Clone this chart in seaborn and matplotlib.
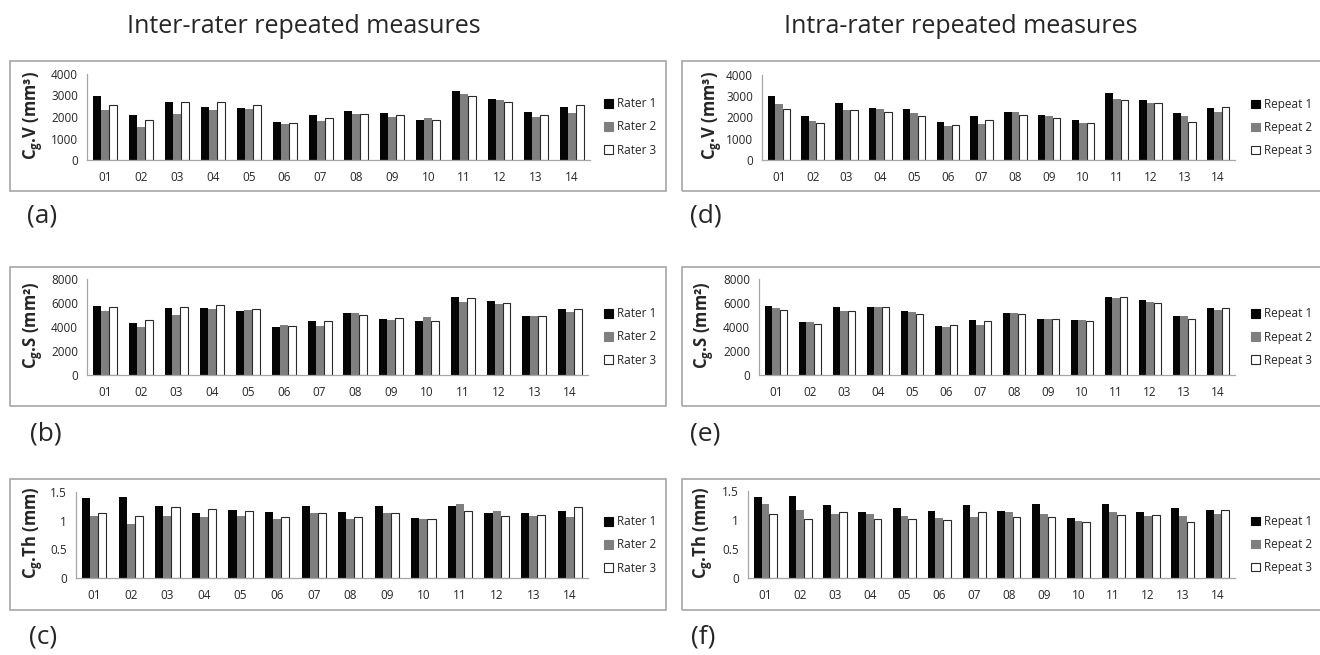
import matplotlib
matplotlib.use("Agg")
import matplotlib.pyplot as plt
import matplotlib.patches as mpatches
import seaborn as sns
import pandas as pd

cases = ["01", "02", "03", "04", "05", "06", "07", "08", "09", "10", "11", "12", "13", "14"]

# volume (mm3)
vol_rater1 = [3000, 2080, 2700, 2480, 2420, 1780, 2110, 2270, 2170, 1880, 3200, 2860, 2220, 2450]
vol_rater2 = [2330, 1520, 2140, 2310, 2380, 1660, 1810, 2120, 2020, 1950, 3090, 2810, 2020, 2200]
vol_rater3 = [2580, 1860, 2720, 2720, 2580, 1700, 1970, 2160, 2110, 1860, 3000, 2720, 2080, 2550]
vol_repeat1 = [3020, 2080, 2670, 2470, 2390, 1770, 2090, 2250, 2140, 1860, 3170, 2840, 2190, 2450]
vol_repeat2 = [2620, 1840, 2360, 2410, 2220, 1620, 1690, 2250, 2060, 1750, 2870, 2690, 2050, 2280]
vol_repeat3 = [2390, 1720, 2360, 2270, 2060, 1660, 1890, 2140, 2000, 1750, 2840, 2660, 1810, 2500]

# surface area (mm2)
area_rater1 = [5780, 4370, 5580, 5610, 5300, 4030, 4540, 5180, 4680, 4540, 6480, 6200, 4900, 5520]
area_rater2 = [5300, 4030, 4990, 5470, 5410, 4170, 4090, 5130, 4590, 4850, 6110, 5940, 4900, 5270]
area_rater3 = [5690, 4590, 5690, 5800, 5520, 4110, 4480, 5010, 4730, 4540, 6420, 6030, 4900, 5490]
area_repeat1 = [5780, 4390, 5630, 5660, 5350, 4060, 4560, 5180, 4680, 4560, 6510, 6250, 4930, 5580]
area_repeat2 = [5550, 4390, 5300, 5660, 5240, 4030, 4170, 5130, 4680, 4560, 6450, 6110, 4900, 5440]
area_repeat3 = [5440, 4280, 5300, 5660, 5070, 4170, 4480, 5070, 4650, 4510, 6510, 6000, 4700, 5610]

# thickness (mm)
thick_rater1 = [1.40, 1.42, 1.26, 1.14, 1.19, 1.15, 1.25, 1.15, 1.26, 1.05, 1.26, 1.14, 1.13, 1.17]
thick_rater2 = [1.09, 0.95, 1.09, 1.07, 1.09, 1.03, 1.14, 1.03, 1.14, 1.03, 1.29, 1.17, 1.08, 1.06]
thick_rater3 = [1.13, 1.08, 1.23, 1.21, 1.17, 1.06, 1.13, 1.07, 1.13, 1.03, 1.16, 1.08, 1.10, 1.23]
thick_repeat1 = [1.40, 1.42, 1.26, 1.14, 1.20, 1.15, 1.26, 1.15, 1.27, 1.03, 1.27, 1.14, 1.20, 1.17]
thick_repeat2 = [1.28, 1.17, 1.10, 1.10, 1.07, 1.03, 1.06, 1.14, 1.10, 0.99, 1.14, 1.07, 1.07, 1.10]
thick_repeat3 = [1.10, 1.01, 1.13, 1.01, 1.02, 1.00, 1.13, 1.05, 1.05, 0.97, 1.08, 1.08, 0.97, 1.18]

rater_names = ["Rater 1", "Rater 2", "Rater 3"]
repeat_names = ["Repeat 1", "Repeat 2", "Repeat 3"]

sns.set_style("white")
plt.rcParams["font.family"] = ["Open Sans", "DejaVu Sans"]
plt.rcParams["mathtext.fontset"] = "custom"
plt.rcParams["mathtext.rm"] = "Open Sans"
plt.rcParams["mathtext.bf"] = "Open Sans:bold"

W, H = 1320, 655
fig = plt.figure(figsize=(W / 100, H / 100), dpi=100)
GRID = "#a6a6a6"
colors = ["#050505", "#7f7f7f", "#ffffff"]


def fx(px):
    return px / W


def fy(py):
    return 1 - py / H


def box(x0, y0, x1, y1):
    r = mpatches.Rectangle((fx(x0), fy(y1)), (x1 - x0) / W, (y1 - y0) / H,
                           transform=fig.transFigure, fill=False, ec=GRID, lw=1.2)
    fig.add_artist(r)


def panel(rect, series, names, ymax, ystep, ylabel, ylab_x, legend_x):
    x0, y0, x1, y1 = rect
    ax = fig.add_axes([fx(x0), fy(y1), (x1 - x0) / W, (y1 - y0) / H])
    df = pd.DataFrame({
        "case": cases * 3,
        "value": series[0] + series[1] + series[2],
        "who": [n for n in names for _ in cases],
    })
    sns.barplot(data=df, x="case", y="value", hue="who", palette=colors,
                width=0.667, errorbar=None, linewidth=0, legend=False, ax=ax)
    for bar in ax.containers[2]:
        bar.set_edgecolor("#2a2a2a")
        bar.set_linewidth(0.8)
    ax.set_xlim(-0.5, 13.5)
    ax.set_ylim(0, ymax)
    ticks = [i * ystep for i in range(int(round(ymax / ystep)) + 1)]
    ax.set_yticks(ticks)
    ax.set_yticklabels([("%g" % t) for t in ticks])
    ax.set_xticks(range(14))
    ax.set_xticks([i - 0.5 for i in range(15)], minor=True)
    ax.tick_params(axis="x", which="major", length=0, pad=8, labelsize=8.5)
    ax.tick_params(axis="x", which="minor", length=3.5, color=GRID, direction="out")
    ax.tick_params(axis="y", length=3.5, color=GRID, direction="out", pad=3, labelsize=8.5)
    ax.set_xlabel("")
    ax.set_ylabel("")
    for s in ["top", "right"]:
        ax.spines[s].set_visible(False)
    for s in ["left", "bottom"]:
        ax.spines[s].set_color(GRID)
        ax.spines[s].set_linewidth(0.9)
    fig.text(fx(ylab_x), fy((y0 + y1) / 2 - 2), ylabel, rotation=90,
             ha="center", va="center", fontsize=12, fontweight="bold")
    handles = [mpatches.Patch(facecolor=c, edgecolor=e, linewidth=0.8)
               for c, e in zip(colors, ["#050505", "#7f7f7f", "#2a2a2a"])]
    ax.legend(handles, names, loc="center left",
              bbox_to_anchor=(fx(legend_x), fy((y0 + y1) / 2 + 10)),
              bbox_transform=fig.transFigure, frameon=False, fontsize=8.5,
              handlelength=0.75, handleheight=0.75, handletextpad=0.35,
              labelspacing=0.85, borderpad=0, borderaxespad=0)
    return ax


# frames
for (ya, yb) in [(61, 191), (267, 406), (479, 610)]:
    box(10, ya, 666, yb)
    box(682, ya, 1330, yb)

vlab = r"C$_\mathbf{g}$.V (mm³)"
slab = r"C$_\mathbf{g}$.S (mm²)"
tlab = r"C$_\mathbf{g}$.Th (mm)"

panel((87, 74, 590, 160), [vol_rater1, vol_rater2, vol_rater3], rater_names,
      4000, 1000, vlab, 33, 604)
panel((87, 279, 588, 375), [area_rater1, area_rater2, area_rater3], rater_names,
      8000, 2000, slab, 33, 604)
panel((76, 492, 588, 578), [thick_rater1, thick_rater2, thick_rater3], rater_names,
      1.5, 0.5, tlab, 33, 604)

panel((762, 75, 1235, 160), [vol_repeat1, vol_repeat2, vol_repeat3], repeat_names,
      4000, 1000, vlab, 712, 1251)
panel((759, 279, 1235, 375), [area_repeat1, area_repeat2, area_repeat3], repeat_names,
      8000, 2000, slab, 704, 1251)
panel((748, 491, 1235, 578), [thick_repeat1, thick_repeat2, thick_repeat3], repeat_names,
      1.5, 0.5, tlab, 703, 1251)

# titles and panel letters
fig.text(fx(127), fy(33), "Inter-rater repeated measures", fontsize=18, va="baseline", ha="left")
fig.text(fx(784), fy(33), "Intra-rater repeated measures", fontsize=18, va="baseline", ha="left")
for lab, x, y in [("(a)", 42, 216), ("(b)", 46, 434), ("(c)", 43, 637),
                  ("(d)", 706, 216), ("(e)", 705, 434), ("(f)", 703, 637)]:
    fig.text(fx(x), fy(y), lab, fontsize=19, ha="center", va="center")

fig.savefig("out.png", dpi=100)
